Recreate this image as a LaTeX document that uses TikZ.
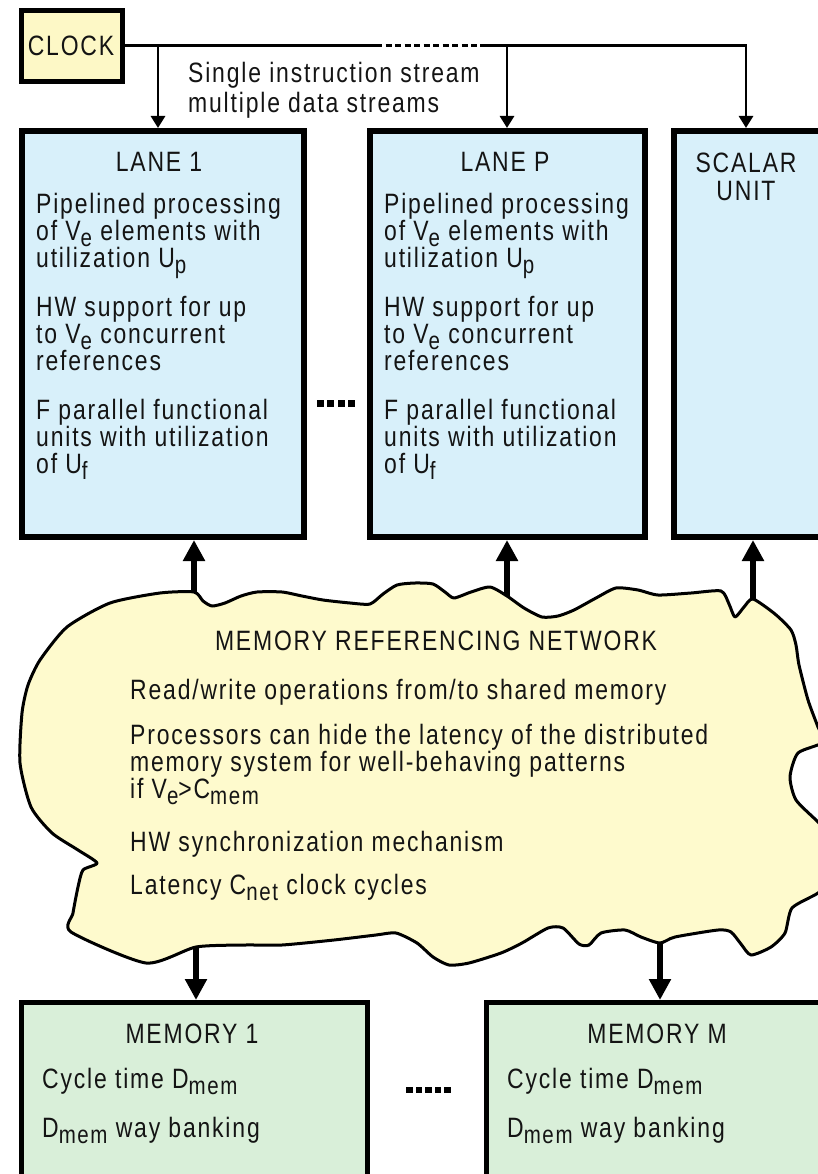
\documentclass[tikz,border=0pt]{standalone}
\usepackage{fontspec}
\setmainfont{Liberation Sans}[FakeStretch=0.82,LetterSpace=6.5]
\usetikzlibrary{arrows.meta}

\definecolor{ink}{HTML}{141414}
\definecolor{clockfill}{HTML}{FDF8C6}
\definecolor{cloudfill}{HTML}{FEFACD}
\definecolor{lanefill}{HTML}{D8F0FA}
\definecolor{memfill}{HTML}{D9EFD9}

% lowered index, nearly full size
\newcommand\subdn[1]{\raisebox{-6.5pt}{\fontsize{25}{25}\selectfont #1}}
% fixes the height of a first line
\newcommand\mytop{\rule{0pt}{21pt}}
% fixed line pitch, whatever the depth of a line
\newcommand\fixedlines{\lineskiplimit=-100pt\relax}

\begin{document}
\begin{tikzpicture}[x=1pt,y=-1pt,
  box/.style={draw=black,rectangle,inner sep=0pt},
  lanebox/.style={box,line width=6pt,fill=lanefill,minimum height=406pt},
  membox/.style={box,line width=5pt,fill=memfill,minimum width=346pt,minimum height=200pt},
  clockbox/.style={box,line width=5pt,fill=clockfill,minimum width=101pt,minimum height=71pt},
  txt/.style={inner sep=0pt,text=ink,align=left,
    font=\fontsize{28}{27}\selectfont,execute at begin node=\fixedlines},
  wire/.style={line width=2.8pt},
  clkarrow/.style={wire,-{Triangle[width=14pt,length=12pt]}},
  busarrow/.style={line width=5.5pt,-{Triangle[width=21pt,length=21pt]}},
  cloud/.style={draw=black,line width=3pt,fill=cloudfill,line join=round}]

\useasboundingbox (0,0) rectangle (818,1174);
\clip (0,0) rectangle (818,1174);

% ---------- boxes ----------
\node[clockbox] (clock) at (72,46) {};
\node[txt,anchor=base] (clocktxt) at (71,56) {CLOCK};

\node[lanebox,minimum width=282pt] (lane1) at (163,334) {};
\node[lanebox,minimum width=275pt] (laneP) at (507.5,334) {};
\node[lanebox,minimum width=160pt] (scalar) at (754,334) {};

\node[membox] (mem1) at (194.5,1102.5) {};
\node[membox] (memM) at (659.5,1102.5) {};

% ---------- clock distribution ----------
\coordinate (c1) at (158,45.5);
\coordinate (c2) at (507,45.5);
\coordinate (c3) at (746,45.5);
\coordinate (d1) at (376,45.5);
\coordinate (d2) at (480,45.5);
\draw[wire] (clock.east |- c1) -- (d1);
\draw[wire,dash pattern=on 6pt off 3.5pt] (d1) -- (d2);
\draw[clkarrow] (d2) -- (c3) -- (c3 |- scalar.north);
\draw[clkarrow] (c1) -- (c1 |- lane1.north);
\draw[clkarrow] (c2) -- (c2 |- laneP.north);

\node[txt,anchor=north west,font=\fontsize{28}{30}\selectfont]
  (simd) at (188,61) {\mytop Single instruction stream\\multiple data streams};

% ---------- lanes ----------
\node[txt,anchor=base] (lane1title) at (159,172) {LANE 1};
\node[txt,anchor=north west] (lane1txt) at (36,192) {\mytop Pipelined processing\\
  of V\subdn{e} elements with\\
  utilization U\subdn{p}\\[22pt]
  HW support for up\\
  to V\subdn{e} concurrent\\
  references\\[22pt]
  F parallel functional\\
  units with utilization\\
  of U\subdn{f}};

\node[txt,anchor=base] (lanePtitle) at (505,172) {LANE P};
\node[txt,anchor=north west] (lanePtxt) at (384,192) {\mytop Pipelined processing\\
  of V\subdn{e} elements with\\
  utilization U\subdn{p}\\[22pt]
  HW support for up\\
  to V\subdn{e} concurrent\\
  references\\[22pt]
  F parallel functional\\
  units with utilization\\
  of U\subdn{f}};

\node[txt,anchor=north,align=center,font=\fontsize{28}{28}\selectfont]
  (scalartxt) at (746,151) {\mytop SCALAR\\UNIT};

\foreach \i in {0,1,2,3} \fill[black] (317+\i*10.4,400) rectangle ++(7,7);

% ---------- memory referencing network ----------
\draw[cloud] plot[smooth cycle,tension=0.4] coordinates {
  (194,592) (203,601) (212,606) (225,603) (241,596) (257,592) (282,592)
  (302,596) (323,600) (350,603) (370,604) (383,594) (397,585) (415,583)
  (433,584) (445,592) (454,598) (471,592) (490,587) (507,596) (524,608)
  (542,617) (558,616) (574,610) (596,598) (616,588) (638,590) (658,595)
  (691,593) (721,591) (729,604) (735,617) (744,607) (753,599) (775,614)
  (791,630) (796,645) (799,665) (808,700) (818,727) (824,742) (798,753)
  (790,777) (796,800) (818,822) (828,835) (828,880) (818,893) (792,908)
  (785,933) (771,947) (751,955) (741,944) (731,932) (718,930) (675,937)
  (660,943) (641,937) (625,930) (601,933) (589,945) (579,944) (563,928)
  (548,928) (522,943) (501,953) (469,963) (449,965) (433,957) (417,943)
  (396,933) (376,935) (334,940) (282,945) (245,945) (196,947) (146,963)
  (71,932) (73,913) (78,887) (83,870) (97,863) (78,850) (52,833) (31,807)
  (20,763) (22,713) (28,685) (40,660) (67,627) (110,603) (160,593)};

\coordinate (n1) at (194,592);
\coordinate (n2) at (507,596);
\coordinate (n3) at (753,599);
\coordinate (m1) at (196,947);
\coordinate (m2) at (660,943);

\node[txt,anchor=base] (nettitle) at (436,650) {MEMORY REFERENCING NETWORK};
\node[txt,anchor=north west] (nettxt) at (130,678) {\mytop Read/write operations from/to shared memory\\[18pt]
  Processors can hide the latency of the distributed\\
  memory system for well-behaving patterns\\
  if V\subdn{e}>C\subdn{mem}\\[26pt]
  HW synchronization mechanism\\[16pt]
  Latency C\subdn{net} clock cycles};

% ---------- buses ----------
\draw[busarrow] (n1) -- (n1 |- lane1.south);
\draw[busarrow] (n2) -- (n2 |- laneP.south);
\draw[busarrow] (n3) -- (n3 |- scalar.south);
\draw[busarrow] (m1) -- (m1 |- mem1.north);
\draw[busarrow] (m2) -- (m2 |- memM.north);

% ---------- memories ----------
\node[txt,anchor=base] (mem1title) at (192,1043) {MEMORY 1};
\node[txt,anchor=north west] (mem1txt) at (42,1067) {\mytop Cycle time D\subdn{mem}\\[22pt]
  D\subdn{mem} way banking};

\node[txt,anchor=base] (memMtitle) at (657,1043) {MEMORY M};
\node[txt,anchor=north west] (memMtxt) at (507,1067) {\mytop Cycle time D\subdn{mem}\\[22pt]
  D\subdn{mem} way banking};

\foreach \i in {0,...,4} \fill[black] (406+\i*9.5,1087) rectangle ++(6.5,6);

\end{tikzpicture}
\end{document}
